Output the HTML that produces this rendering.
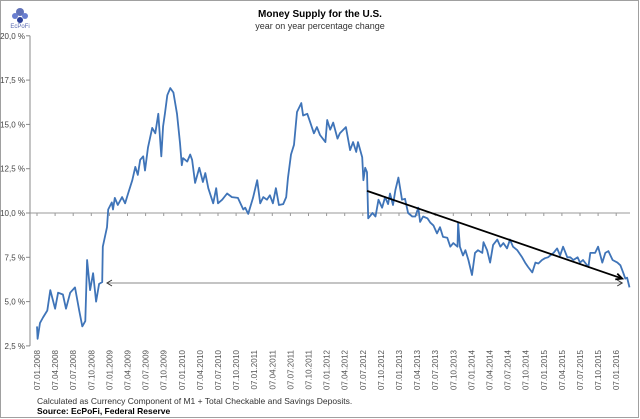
<!DOCTYPE html>
<html><head><meta charset="utf-8"><style>
body{margin:0;background:#fff;}
svg{display:block;font-family:"Liberation Sans",sans-serif;}
</style></head><body>
<svg id="chart" width="640" height="419" viewBox="0 0 640 419">
<rect x="0.5" y="0.5" width="638" height="417" fill="#fff" stroke="#a0a0a0"/>
<g>
<circle cx="20" cy="12" r="4" fill="#3a4fa8" opacity="0.8"/><circle cx="15" cy="16" r="3" fill="#6a7fd0"/><circle cx="25" cy="16" r="3" fill="#6a7fd0"/><circle cx="20" cy="20" r="3" fill="#2a3f98"/>
<text x="20" y="28" font-size="6" fill="#5a6ab0" text-anchor="middle">EcPoFi</text>
</g>
<text x="320" y="17" font-size="10" font-weight="bold" text-anchor="middle" fill="#000">Money Supply for the U.S.</text>
<text x="320" y="29" font-size="9" text-anchor="middle" fill="#333">year on year percentage change</text>
<g id="axes"></g>
<g id="marks"></g>
<text x="37" y="404" font-size="8.5" fill="#333">Calculated as Currency Component of M1 + Total Checkable and Savings Deposits.</text>
<text x="37" y="414" font-size="8.5" font-weight="bold" fill="#000">Source: EcPoFi,  Federal Reserve</text>
</svg>
<script>
const yTicks=[20,17.5,15,12.5,10,7.5,5,2.5];
const yTickLabels=["20,0 %","17,5 %","15,0 %","12,5 %","10,0 %","7,5 %","5,0 %","2,5 %"];
const xTickLabels=["07.01.2008","07.04.2008","07.07.2008","07.10.2008","07.01.2009","07.04.2009","07.07.2009","07.10.2009","07.01.2010","07.04.2010","07.07.2010","07.10.2010","07.01.2011","07.04.2011","07.07.2011","07.10.2011","07.01.2012","07.04.2012","07.07.2012","07.10.2012","07.01.2013","07.04.2013","07.07.2013","07.10.2013","07.01.2014","07.04.2014","07.07.2014","07.10.2014","07.01.2015","07.04.2015","07.07.2015","07.10.2015","07.01.2016"];
// months since Jan 2008
const months=[0,0.1,0.5,1.0,1.7,2.2,3.0,3.5,4.3,4.8,5.5,6.3,7.0,7.5,8.0,8.3,8.8,9.3,9.8,10.3,10.8,10.9,11.6,11.8,12.4,12.6,12.9,13.4,14.1,14.6,15.1,15.8,16.3,16.7,17.1,17.6,17.9,18.4,19.1,19.6,20.1,20.6,20.9,21.2,21.6,22.1,22.6,23.2,23.7,24.0,24.2,24.9,25.4,25.7,26.2,26.9,27.5,27.9,28.4,29.2,29.7,30.0,30.7,31.5,32.3,33.3,34.2,34.5,35.0,35.8,36.5,37.0,37.5,38.1,38.6,39.1,39.6,40.1,40.8,41.3,41.6,42.1,42.6,43.1,43.8,44.1,44.8,45.3,45.9,46.4,46.9,47.8,48.1,48.6,49.1,49.8,50.2,51.2,51.9,52.4,52.9,53.2,53.9,54.1,54.4,54.7,54.9,55.6,56.1,56.6,57.2,57.7,58.2,58.5,59.0,59.4,59.9,60.5,61.0,61.5,62.2,62.7,63.2,63.5,64.0,64.7,65.2,65.7,66.3,66.8,67.3,68.0,68.5,69.0,69.7,69.8,70.1,70.6,71.0,71.5,72.1,72.6,73.1,73.8,74.0,74.6,75.1,75.6,76.3,76.8,77.3,77.9,78.4,78.9,79.6,80.4,80.9,81.4,82.1,82.6,83.1,83.7,84.2,84.7,85.6,86.2,86.7,87.2,87.9,88.4,88.9,89.6,90.0,90.5,91.4,91.7,92.5,93.0,93.7,94.2,94.7,95.4,96.2,96.7,97.2,97.5,97.8,98.2];
const growth=[3.6,2.9,3.8,4.1,4.5,5.65,4.6,5.5,5.4,4.6,5.5,5.8,4.5,3.6,3.9,7.35,5.65,6.6,5.0,6.0,6.1,8.1,9.2,10.2,10.6,10.2,10.85,10.45,10.9,10.55,11.1,11.85,12.6,12.15,13.0,13.2,12.4,13.7,14.8,14.5,15.6,13.2,14.9,15.6,16.65,17.05,16.8,15.6,13.95,12.7,13.1,12.9,13.3,13.0,11.7,12.55,11.75,12.25,11.4,10.55,11.4,10.55,10.75,11.1,10.9,10.85,10.2,10.3,9.95,10.85,11.85,10.55,10.9,10.75,11.0,10.55,11.4,10.45,10.5,10.9,12.0,13.3,13.85,15.7,16.2,15.5,15.6,15.1,14.5,14.85,14.4,14.0,15.25,14.7,15.1,14.2,14.5,14.85,13.55,14.0,13.45,14.0,13.15,11.85,12.55,12.3,9.7,10.0,9.8,10.75,10.3,10.9,10.5,11.1,10.45,11.3,12.0,10.75,10.8,10.0,9.8,9.8,10.3,9.5,9.8,9.7,9.45,9.3,8.85,9.2,8.65,8.6,8.1,8.3,8.1,9.45,8.1,7.6,7.9,7.35,6.5,7.75,7.9,7.75,8.35,7.9,7.2,8.2,8.5,8.1,8.3,8.0,8.5,8.1,7.9,7.5,7.2,6.95,6.65,7.2,7.15,7.35,7.45,7.5,7.75,8.0,7.6,8.1,7.5,7.5,7.35,7.5,7.2,7.35,6.95,7.75,7.75,8.1,7.2,7.75,7.85,7.35,7.2,7.05,6.6,6.3,6.35,5.8];
const trendStart=[54.7,11.25], trendEnd=[97.0,6.3];
const supportLevel=6.05, supportStart=11.6, supportEnd=97.0;

const NS="http://www.w3.org/2000/svg";
const X=m=>37+m*18.1/3;
const Y=v=>213-(v-10)*17.72;
function mk(tag,attrs,parent){const e=document.createElementNS(NS,tag);for(const k in attrs)e.setAttribute(k,attrs[k]);parent.appendChild(e);return e;}
const ax=document.getElementById('axes'), mg=document.getElementById('marks');
let yl=mk('line',{x1:30,x2:30,y1:Y(20),y2:Y(2.5),stroke:'#888'},ax);


yTicks.forEach((t,i)=>{
 const tk=mk('line',{x1:26,x2:30,y1:Y(t),y2:Y(t),stroke:'#888'},ax);
 
 
 const tx=mk('text',{x:25,y:Y(t)+3,'font-size':8,'text-anchor':'end',fill:'#444'},ax);
 tx.textContent=yTickLabels[i];
 
 
});
let xl=mk('line',{x1:30,x2:630,y1:Y(10),y2:Y(10),stroke:'#999'},ax);


xTickLabels.forEach((l,i)=>{
 const x=X(i*3);
 const tk=mk('line',{x1:x,x2:x,y1:Y(10),y2:Y(10)+3,stroke:'#999'},ax);
 
 
 const tx=mk('text',{x:0,y:0,'font-size':8,'text-anchor':'end',fill:'#555',transform:`translate(${x+3},350) rotate(-90)`},ax);
 tx.textContent=l;
 
 
});
// support line (thin double arrow)
const sy=Y(supportLevel);
let sl=mk('line',{x1:X(supportStart),x2:X(supportEnd),y1:sy,y2:sy,stroke:'#888','stroke-width':1},mg);


let sh=mk('path',{d:`M${X(supportStart)+5},${sy-3}L${X(supportStart)},${sy}L${X(supportStart)+5},${sy+3}M${X(supportEnd)-5},${sy-3}L${X(supportEnd)},${sy}L${X(supportEnd)-5},${sy+3}`,fill:'none',stroke:'#333'},mg);


// series
let d=months.map((m,i)=>(i?'L':'M')+X(m).toFixed(1)+','+Y(growth[i]).toFixed(1)).join('');
let p=mk('path',{d:d,fill:'none',stroke:'#3f74b8','stroke-width':1.8,'stroke-linejoin':'round'},mg);


// trend arrow
const x1=X(trendStart[0]),y1=Y(trendStart[1]),x2=X(trendEnd[0]),y2=Y(trendEnd[1]);
let tl=mk('line',{x1:x1,y1:y1,x2:x2,y2:y2,stroke:'#000','stroke-width':1.8},mg);


const ang=Math.atan2(y2-y1,x2-x1);
const hx=(a)=>x2-7*Math.cos(ang+a), hy=(a)=>y2-7*Math.sin(ang+a);
let th=mk('path',{d:`M${hx(0.45)},${hy(0.45)}L${x2},${y2}L${hx(-0.45)},${hy(-0.45)}`,fill:'none',stroke:'#000','stroke-width':1.8},mg);


</script>
</body></html>
